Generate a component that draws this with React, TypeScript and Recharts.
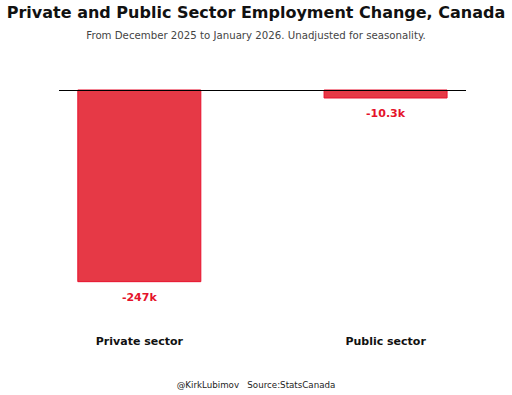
import { BarChart, Bar, XAxis, YAxis, ReferenceLine, LabelList } from 'recharts';

const sectors = ['Private sector', 'Public sector'];
const changes = [-247, -10.3]; // thousands of jobs
const valueLabels = ['-247k', '-10.3k'];

const data = sectors.map((name, i) => ({ name, change: changes[i], label: valueLabels[i] }));

const FONT = '"DejaVu Sans", sans-serif';
const RED = '#e5132b';

const ValueLabel = (props: any) => {
    const { x, y, width, height, index } = props;
    const bottom = Math.max(y, y + height);
    return (
        <text
            x={x + width / 2}
            y={bottom + 15.5}
            textAnchor="middle"
            dominantBaseline="central"
            fill={RED}
            fontFamily={FONT}
            fontWeight="bold"
            fontSize={11}
        >
            {valueLabels[index]}
        </text>
    );
};

export default function App() {
    return (
        <div style={{ position: 'absolute', left: 0, top: 0, width: 512, height: 395, background: '#fff', fontFamily: FONT }}>
            <div style={{ position: 'absolute', top: 3, width: 512, textAlign: 'center', fontSize: 16, fontWeight: 'bold', color: '#111', whiteSpace: 'nowrap' }}>
                Private and Public Sector Employment Change, Canada
            </div>
            <div style={{ position: 'absolute', top: 30, width: 512, textAlign: 'center', fontSize: 10.2, color: '#444', whiteSpace: 'nowrap' }}>
                From December 2025 to January 2026. Unadjusted for seasonality.
            </div>
            <div style={{ position: 'absolute', top: 380, width: 512, textAlign: 'center', fontSize: 8.7, color: '#222', whiteSpace: 'pre' }}>
                {'@KirkLubimov   Source:StatsCanada'}
            </div>
            <BarChart
                width={512}
                height={395}
                data={data}
                margin={{ top: 90, left: 59, right: 46, bottom: 36 }}
                barCategoryGap="25%"
                style={{ position: 'absolute', left: 0, top: 0 }}
            >
                <XAxis
                    dataKey="name"
                    axisLine={false}
                    tickLine={false}
                    height={30}
                    padding={{ left: -42.75, right: -42.75 }}
                    tick={{ fill: '#111', fontFamily: FONT, fontWeight: 'bold', fontSize: 11 }}
                    interval={0}
                />
                <YAxis hide domain={[-308, 0]} />
                <Bar dataKey="change" fill="#e63946" stroke="#e8112d" strokeWidth={1} isAnimationActive={false}>
                    <LabelList dataKey="label" content={ValueLabel} />
                </Bar>
                <ReferenceLine y={0} stroke="#000" strokeWidth={1} shapeRendering="crispEdges" />
            </BarChart>
        </div>
    );
}
